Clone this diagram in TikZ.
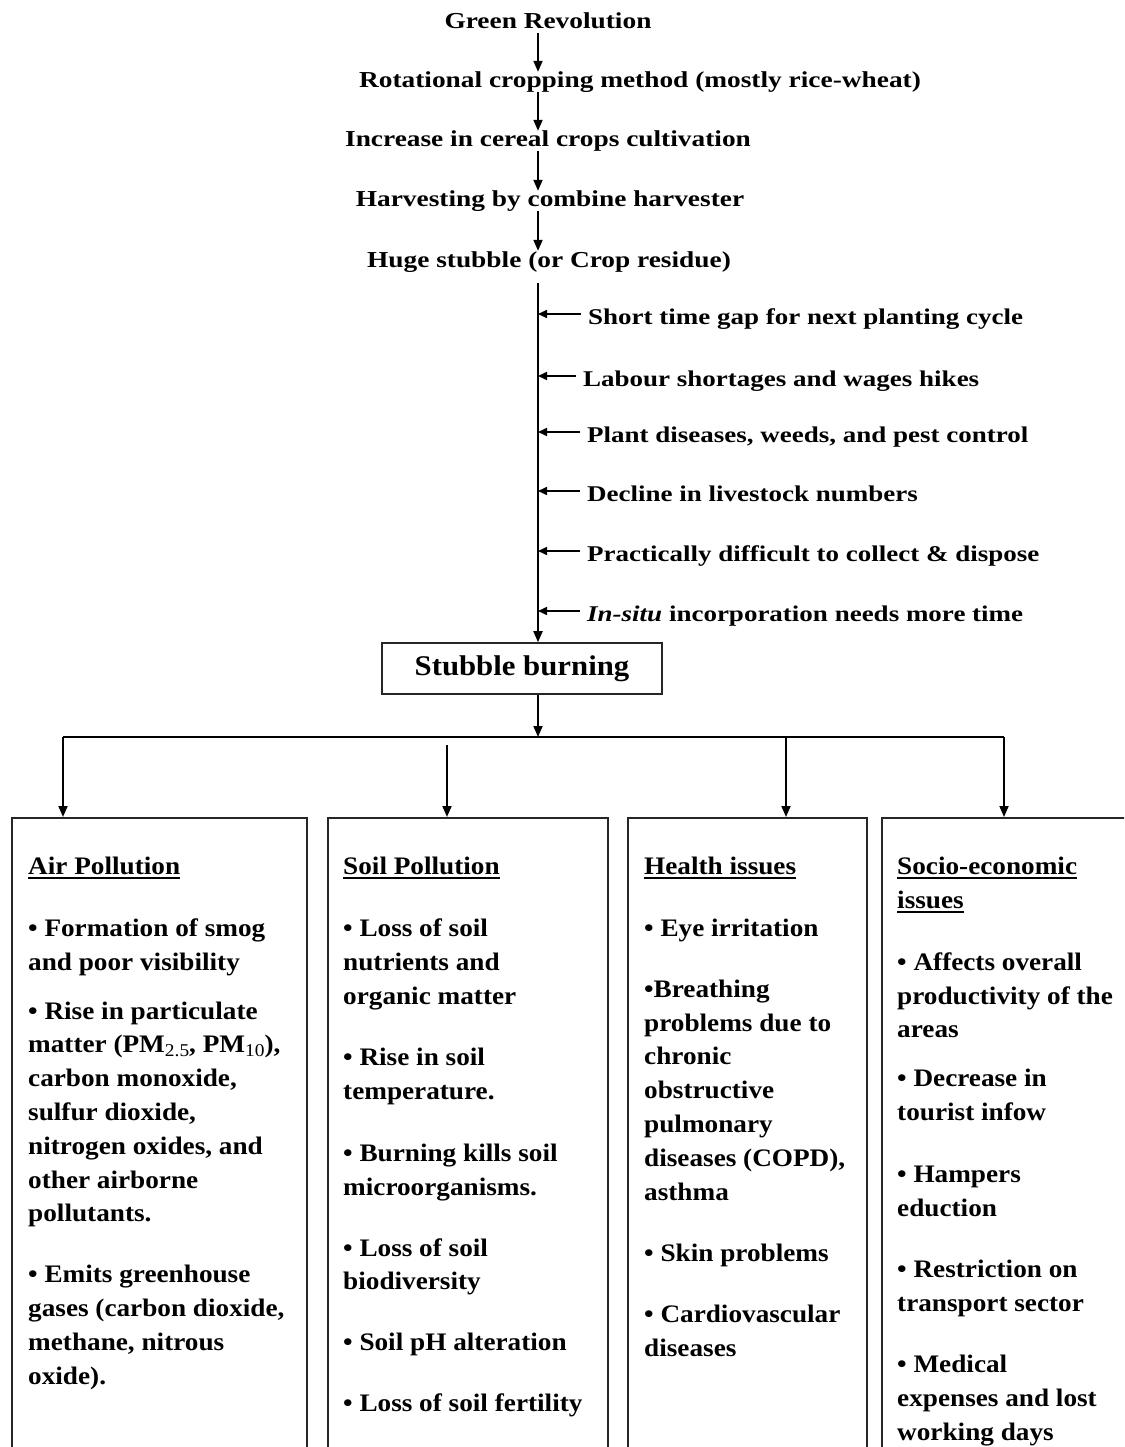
\documentclass[tikz,border=0pt]{standalone}
\usepackage{fontspec}
\setmainfont{Liberation Serif}
\newfontfamily\flowfont[FakeStretch=1.2]{Liberation Serif}
\newfontfamily\cellfont[FakeStretch=1.08]{Liberation Serif}
\usetikzlibrary{arrows.meta}

% underlined box heading
\newcommand\headline[1]{\setbox0\hbox{#1}\rlap{\rule[-4.5pt]{\wd0}{1.8pt}}\box0}
% lowered index for PM sizes
\newcommand\lowidx[1]{\raisebox{-4pt}{\fontsize{18}{18}\selectfont\mdseries #1}}

\tikzset{
  flow/.style={font=\flowfont\bfseries\fontsize{22.8}{27}\selectfont,
    inner sep=0pt, text height=16pt, text depth=4pt, anchor=base},
  cause/.style={font=\flowfont\bfseries\fontsize{22.5}{27}\selectfont,
    inner sep=0pt, text height=20pt, text depth=0pt, anchor=base west},
  cell/.style={draw=black!85, line width=1.6pt, anchor=north west, inner sep=0pt},
  celltext/.style={font=\cellfont\bfseries\fontsize{25.2}{33.8}\selectfont,
    align=left, anchor=north west, inner sep=0pt},
  arr/.style={-{Triangle[length=11pt,width=9pt]}, line width=1.8pt},
  sidearr/.style={-{Triangle[length=9pt,width=8pt]}, line width=1.6pt},
  bus/.style={line width=1.8pt},
}

\begin{document}
\begin{tikzpicture}[x=1pt,y=-1pt]
\useasboundingbox (0,0) rectangle (1124,1447);
\clip (0,0) rectangle (1124,1447);
\fill[white] (0,0) rectangle (1124,1447);

\coordinate (spine) at (538,0);

% chain from the Green Revolution to the crop residue
\node[flow] (gr)   at (548,29)  {Green Revolution};
\node[flow] (rot)  at (640,88)  {Rotational cropping method (mostly rice-wheat)};
\node[flow] (inc)  at (548,147) {Increase in cereal crops cultivation};
\node[flow] (harv) at (550,207) {Harvesting by combine harvester};
\node[flow] (huge) at (549,267) {Huge stubble (or Crop residue)};

\draw[arr] (gr.south -| spine)   -- (rot.north -| spine);
\draw[arr] (rot.south -| spine)  -- (inc.north -| spine);
\draw[arr] (inc.south -| spine)  -- (harv.north -| spine);
\draw[arr] (harv.south -| spine) -- (huge.north -| spine);

% reasons feeding into the burning
\node[cause] (c1) at (588,324) {Short time gap for next planting cycle};
\node[cause] (c2) at (583,386) {Labour shortages and wages hikes};
\node[cause] (c3) at (587,442) {Plant diseases, weeds, and pest control};
\node[cause] (c4) at (587,501) {Decline in livestock numbers};
\node[cause] (c5) at (587,561) {Practically difficult to collect \& dispose};
\node[cause] (c6) at (587,621) {\textit{In-situ} incorporation needs more time};

% central burning box
\node[draw=black!85, line width=1.6pt, minimum width=280pt, minimum height=51pt,
      font=\cellfont\bfseries\fontsize{28.5}{30}\selectfont, inner sep=0pt]
      (stub) at (522,668.5) {Stubble burning};

\draw[arr] (huge.south -| spine) ++(0,12) -- (stub.north -| spine);
\foreach \c in {c1,c2,c3,c4,c5,c6}
  \draw[sidearr] ([xshift=-7pt]\c.west) -- (\c.west -| spine);

% distribution bus to the four impact boxes
\coordinate (hub) at (538,737);
\coordinate (t1) at (63,737);
\coordinate (t2) at (447,737);
\coordinate (t3) at (786,737);
\coordinate (t4) at (1004,737);

\node[cell, minimum width=295pt, minimum height=650pt] (b1) at (11,817) {};
\node[cell, minimum width=280pt, minimum height=650pt] (b2) at (327,817) {};
\node[cell, minimum width=239pt, minimum height=650pt] (b3) at (627,817) {};
\node[cell, minimum width=260pt, minimum height=650pt] (b4) at (881,817) {};

\draw[arr] (stub.south -| spine) -- (hub);
\draw[bus] (t1) -- (t4);
\draw[arr] (t1) -- (t1 |- b1.north);
\draw[arr] ([yshift=-8pt]t2) -- (t2 |- b2.north);
\draw[arr] (t3) -- (t3 |- b3.north);
\draw[arr] (t4) -- (t4 |- b4.north);

% impact lists
\node[celltext] (air) at (28,857) {%
\headline{Air Pollution}\\[28pt]
• Formation of smog\\
and poor visibility\\[15pt]
• Rise in particulate\\
matter (PM\lowidx{2.5}, PM\lowidx{10}),\\
carbon monoxide,\\
sulfur dioxide,\\
nitrogen oxides, and\\
other airborne\\
pollutants.\\[27pt]
• Emits greenhouse\\
gases (carbon dioxide,\\
methane, nitrous\\
oxide).};

\node[celltext] (soil) at (343,857) {%
\headline{Soil Pollution}\\[28pt]
• Loss of soil\\
nutrients and\\
organic matter\\[28pt]
• Rise in soil\\
temperature.\\[28pt]
• Burning kills soil\\
microorganisms.\\[27pt]
• Loss of soil\\
biodiversity\\[27pt]
• Soil pH alteration\\[27pt]
• Loss of soil fertility};

\node[celltext] (health) at (644,857) {%
\headline{Health issues}\\[28pt]
• Eye irritation\\[27pt]
•Breathing\\
problems due to\\
chronic\\
obstructive\\
pulmonary\\
diseases (COPD),\\
asthma\\[28pt]
• Skin problems\\[27pt]
• Cardiovascular\\
diseases};

\node[celltext] (socio) at (897,857) {%
\headline{Socio-economic}\\
\headline{issues}\\[28pt]
• Affects overall\\
productivity of the\\
areas\\[15pt]
• Decrease in\\
tourist infow\\[28pt]
• Hampers\\
eduction\\[28pt]
• Restriction on\\
transport sector\\[27pt]
• Medical\\
expenses and lost\\
working days};
\end{tikzpicture}
\end{document}
